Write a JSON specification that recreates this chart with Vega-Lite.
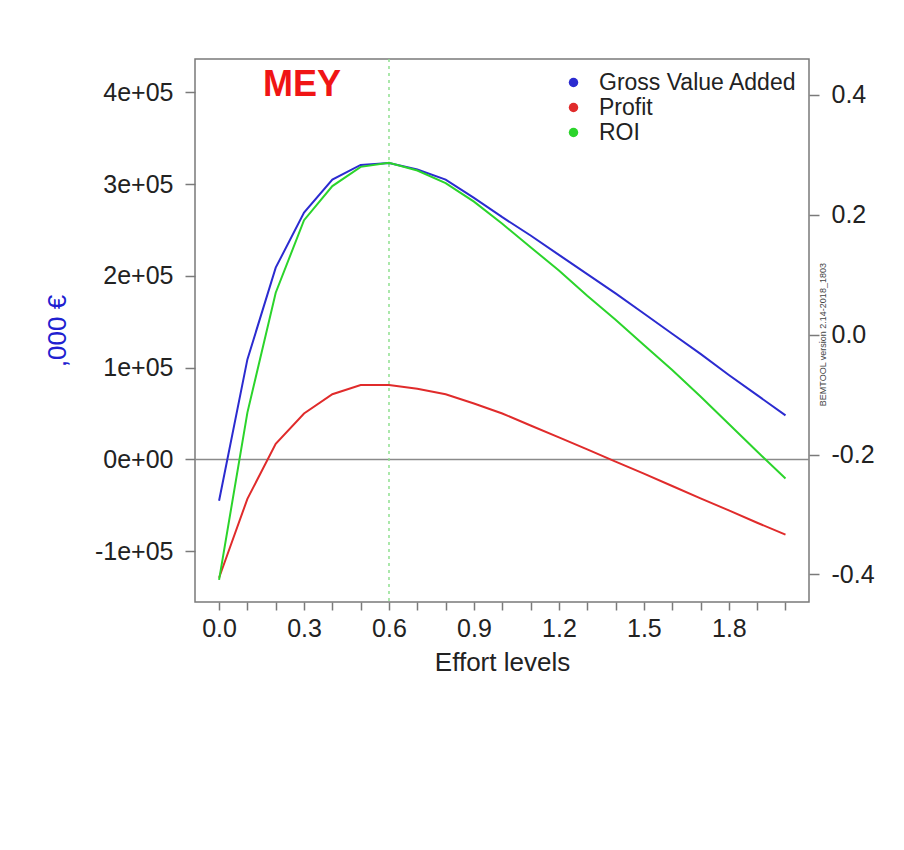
{
  "$schema": "https://vega.github.io/schema/vega-lite/v6.json",
  "width": 614,
  "height": 543,
  "autosize": {"type": "none"},
  "padding": {"left": 195, "top": 59, "right": 95, "bottom": 248},
  "background": "white",
  "config": {
    "font": "Liberation Sans",
    "view": {"stroke": "#7a7a7a", "strokeWidth": 1.5},
    "axis": {
      "grid": false,
      "domain": false,
      "tickColor": "#7a7a7a",
      "tickWidth": 1.5,
      "labelColor": "#222222",
      "titleColor": "#222222",
      "labelFont": "Liberation Sans",
      "titleFont": "Liberation Sans",
      "labelFontSize": 25,
      "titleFontSize": 26,
      "titleFontWeight": "normal"
    },
    "axisX": {
      "title": "Effort levels",
      "values": [0, 0.1, 0.2, 0.3, 0.4, 0.5, 0.6, 0.7, 0.8, 0.9, 1.0, 1.1, 1.2, 1.3, 1.4, 1.5, 1.6, 1.7, 1.8, 1.9, 2.0],
      "labelExpr": "indexof(['0.0', '0.3', '0.6', '0.9', '1.2', '1.5', '1.8'], format(datum.value, '.1f')) >= 0 ? format(datum.value, '.1f') : ''",
      "labelOverlap": false,
      "labelFlush": false,
      "tickSize": 8,
      "labelPadding": 6,
      "titlePadding": 8
    }
  },
  "datasets": {
    "curves": [
      {"effort": 0.0, "series": "Gross Value Added", "value": -45000},
      {"effort": 0.1, "series": "Gross Value Added", "value": 109000},
      {"effort": 0.2, "series": "Gross Value Added", "value": 209000},
      {"effort": 0.3, "series": "Gross Value Added", "value": 269000},
      {"effort": 0.4, "series": "Gross Value Added", "value": 305000},
      {"effort": 0.5, "series": "Gross Value Added", "value": 321000},
      {"effort": 0.6, "series": "Gross Value Added", "value": 323000},
      {"effort": 0.7, "series": "Gross Value Added", "value": 316000},
      {"effort": 0.8, "series": "Gross Value Added", "value": 305000},
      {"effort": 0.9, "series": "Gross Value Added", "value": 285000},
      {"effort": 1.0, "series": "Gross Value Added", "value": 264000},
      {"effort": 1.1, "series": "Gross Value Added", "value": 244000},
      {"effort": 1.2, "series": "Gross Value Added", "value": 223000},
      {"effort": 1.3, "series": "Gross Value Added", "value": 202000},
      {"effort": 1.4, "series": "Gross Value Added", "value": 181000},
      {"effort": 1.5, "series": "Gross Value Added", "value": 159000},
      {"effort": 1.6, "series": "Gross Value Added", "value": 137000},
      {"effort": 1.7, "series": "Gross Value Added", "value": 115000},
      {"effort": 1.8, "series": "Gross Value Added", "value": 92000},
      {"effort": 1.9, "series": "Gross Value Added", "value": 70000},
      {"effort": 2.0, "series": "Gross Value Added", "value": 48000},
      {"effort": 0.0, "series": "Profit", "value": -129000},
      {"effort": 0.1, "series": "Profit", "value": -43000},
      {"effort": 0.2, "series": "Profit", "value": 17000},
      {"effort": 0.3, "series": "Profit", "value": 50000},
      {"effort": 0.4, "series": "Profit", "value": 71000},
      {"effort": 0.5, "series": "Profit", "value": 81000},
      {"effort": 0.6, "series": "Profit", "value": 81000},
      {"effort": 0.7, "series": "Profit", "value": 77000},
      {"effort": 0.8, "series": "Profit", "value": 71000},
      {"effort": 0.9, "series": "Profit", "value": 61000},
      {"effort": 1.0, "series": "Profit", "value": 50000},
      {"effort": 1.1, "series": "Profit", "value": 37000},
      {"effort": 1.2, "series": "Profit", "value": 24000},
      {"effort": 1.3, "series": "Profit", "value": 11000},
      {"effort": 1.4, "series": "Profit", "value": -2500},
      {"effort": 1.5, "series": "Profit", "value": -15500},
      {"effort": 1.6, "series": "Profit", "value": -29000},
      {"effort": 1.7, "series": "Profit", "value": -42500},
      {"effort": 1.8, "series": "Profit", "value": -55500},
      {"effort": 1.9, "series": "Profit", "value": -69000},
      {"effort": 2.0, "series": "Profit", "value": -82000},
      {"effort": 0.0, "series": "ROI", "value": -0.409},
      {"effort": 0.1, "series": "ROI", "value": -0.130},
      {"effort": 0.2, "series": "ROI", "value": 0.070},
      {"effort": 0.3, "series": "ROI", "value": 0.191},
      {"effort": 0.4, "series": "ROI", "value": 0.248},
      {"effort": 0.5, "series": "ROI", "value": 0.280},
      {"effort": 0.6, "series": "ROI", "value": 0.287},
      {"effort": 0.7, "series": "ROI", "value": 0.274},
      {"effort": 0.8, "series": "ROI", "value": 0.253},
      {"effort": 0.9, "series": "ROI", "value": 0.222},
      {"effort": 1.0, "series": "ROI", "value": 0.185},
      {"effort": 1.1, "series": "ROI", "value": 0.146},
      {"effort": 1.2, "series": "ROI", "value": 0.107},
      {"effort": 1.3, "series": "ROI", "value": 0.065},
      {"effort": 1.4, "series": "ROI", "value": 0.025},
      {"effort": 1.5, "series": "ROI", "value": -0.017},
      {"effort": 1.6, "series": "ROI", "value": -0.059},
      {"effort": 1.7, "series": "ROI", "value": -0.103},
      {"effort": 1.8, "series": "ROI", "value": -0.149},
      {"effort": 1.9, "series": "ROI", "value": -0.195},
      {"effort": 2.0, "series": "ROI", "value": -0.240}
    ]
  },
  "layer": [
    {
      "data": {"values": [{}]},
      "mark": {"type": "rule", "color": "#8a8a8a", "strokeWidth": 1.5},
      "encoding": {
        "y": {"datum": 0, "type": "quantitative", "scale": {"domain": [-155400, 436400], "nice": false, "zero": false}, "axis": null}
      }
    },
    {
      "data": {"values": [{}]},
      "mark": {"type": "rule", "color": "#8fe08f", "strokeWidth": 1.5, "strokeDash": [3, 4]},
      "encoding": {
        "x": {"datum": 0.6, "type": "quantitative", "scale": {"domain": [-0.085, 2.083], "nice": false, "zero": false}, "axis": {"labelOverlap": false, "title": "Effort levels"}}
      }
    },
    {
      "data": {"name": "curves"},
      "transform": [{"filter": "datum.series != 'ROI'"}],
      "mark": {"type": "line", "strokeWidth": 2},
      "encoding": {
        "x": {
          "field": "effort", "type": "quantitative",
          "scale": {"domain": [-0.085, 2.083], "nice": false, "zero": false},
          "axis": {"labelOverlap": false, "title": "Effort levels"}
        },
        "y": {
          "field": "value", "type": "quantitative",
          "scale": {"domain": [-155400, 436400], "nice": false, "zero": false},
          "axis": {
            "orient": "left",
            "title": ",000 €",
            "titleColor": "#2020d0",
            "values": [-100000, 0, 100000, 200000, 300000, 400000],
            "labelExpr": "datum.value == 0 ? '0e+00' : (datum.value < 0 ? '-' : '') + format(abs(datum.value) / 100000, 'd') + 'e+05'",
            "tickSize": 10,
            "labelPadding": 12,
            "titlePadding": 24
          }
        },
        "color": {
          "field": "series", "type": "nominal",
          "scale": {"domain": ["Gross Value Added", "Profit", "ROI"], "range": ["#2b2bd0", "#e02b2b", "#2bd42b"]},
          "legend": {
            "title": null,
            "orient": "top-right",
            "offset": 12,
            "padding": 0,
            "symbolType": "circle",
            "symbolSize": 90,
            "symbolStrokeWidth": 0,
            "labelFontSize": 23,
            "labelColor": "#222222",
            "labelOffset": 14,
            "labelLimit": 400,
            "rowPadding": 1,
            "encode": {"symbols": {"update": {"fill": {"scale": "color", "field": "value"}, "stroke": {"value": "transparent"}, "opacity": {"value": 1}}}}
          }
        }
      }
    },
    {
      "data": {"name": "curves"},
      "transform": [{"filter": "datum.series == 'ROI'"}],
      "mark": {"type": "line", "strokeWidth": 2},
      "encoding": {
        "x": {"field": "effort", "type": "quantitative", "scale": {"domain": [-0.085, 2.083], "nice": false, "zero": false}, "axis": {"labelOverlap": false, "title": "Effort levels"}},
        "y": {
          "field": "value", "type": "quantitative",
          "scale": {"domain": [-0.446, 0.46], "nice": false, "zero": false},
          "axis": {
            "orient": "right",
            "title": null,
            "values": [-0.4, -0.2, 0, 0.2, 0.4],
            "labelExpr": "(datum.value < 0 ? '-' : '') + format(abs(datum.value), '.1f')",
            "tickSize": 10,
            "labelPadding": 12
          }
        },
        "color": {"field": "series", "type": "nominal"}
      }
    },
    {
      "data": {"values": [{}]},
      "mark": {"type": "text", "text": "MEY", "align": "left", "baseline": "middle", "fontSize": 36, "fontWeight": "bold", "color": "#f01515"},
      "encoding": {
        "x": {"datum": 0.155, "type": "quantitative", "scale": {"domain": [-0.085, 2.083], "nice": false, "zero": false}, "axis": {"labelOverlap": false, "title": "Effort levels"}},
        "y": {"datum": 408000, "type": "quantitative", "scale": {"domain": [-155400, 436400], "nice": false, "zero": false}, "axis": null}
      }
    },
    {
      "data": {"values": [{}]},
      "mark": {"type": "text", "text": "BEMTOOL version 2.14-2018_1803", "align": "center", "baseline": "middle", "angle": 270, "fontSize": 9, "color": "#444444"},
      "encoding": {
        "x": {"datum": 2.132, "type": "quantitative", "scale": {"domain": [-0.085, 2.083], "nice": false, "zero": false}, "axis": {"labelOverlap": false, "title": "Effort levels"}},
        "y": {"datum": 136000, "type": "quantitative", "scale": {"domain": [-155400, 436400], "nice": false, "zero": false}, "axis": null}
      }
    }
  ],
  "resolve": {"scale": {"y": "independent"}}
}
